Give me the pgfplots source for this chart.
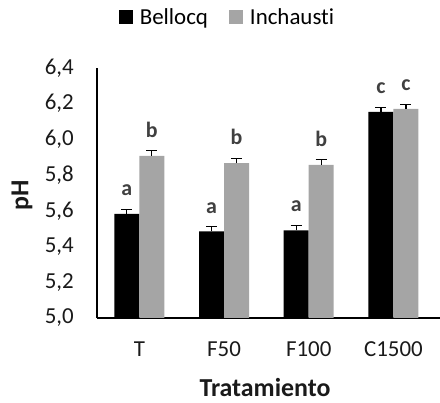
\documentclass[border=0pt]{standalone}
\usepackage{pgfplots}
\pgfplotsset{compat=1.18}
\usepackage{fontspec}
\setmainfont[Ligatures=NoCommon]{Carlito}
\definecolor{gbar}{HTML}{A5A5A5}
\definecolor{lettc}{HTML}{404040}
\definecolor{txtc}{HTML}{1A1A1A}
\begin{document}
\begin{tikzpicture}
\path[use as bounding box] (0,0) rectangle (440bp,403bp);
\begin{axis}[
  at={(97bp,85bp)}, anchor=south west,
  scale only axis, width=343bp, height=250bp,
  ybar=0pt, bar width=25bp,
  xmin=-0.5, xmax=3.55,
  ymin=5.0, ymax=6.4,
  ytick={5.0,5.2,...,6.41},
  xtick=data, xticklabels={T,F50,F100,C1500},
  axis x line*=bottom, axis y line*=left,
  axis line style={black, line width=1.3bp},
  major tick length=0pt,
  tick label style={font=\fontsize{23}{27}\selectfont, text=txtc},
  /pgf/number format/assume math mode=true,
  yticklabel style={/pgf/number format/use comma, /pgf/number format/fixed, /pgf/number format/fixed zerofill, /pgf/number format/precision=1, anchor=east, inner sep=0pt, xshift=-23bp},
  xticklabel style={anchor=center, inner sep=0pt, yshift=-31bp},
  ylabel={\textbf{pH}}, xlabel={\textbf{Tratamiento}},
  label style={font=\fontsize{26}{30}\selectfont, text=txtc},
  ylabel style={at={(-75bp,123bp)}, anchor=center},
  xlabel style={at={(168bp,-70bp)}, anchor=center},
  point meta=explicit symbolic,
  nodes near coords,
  every node near coord/.append style={font=\bfseries\fontsize{22}{26}\selectfont, text=lettc, anchor=south, inner sep=0pt, yshift=18bp},
  error bars/y dir=plus, error bars/y explicit,
  error bars/error mark options={rotate=90, mark size=5.5bp, line width=1.2bp, black},
  error bars/error bar style={line width=1.2bp, black},
  legend style={at={(121bp,301bp)}, anchor=center, draw=none, legend columns=2,
    font=\fontsize{23}{27}\selectfont},
  legend image code/.code={\fill[#1, draw=none] (0bp,-7bp) rectangle (14bp,7bp); \path[draw=none, fill=none] (-19bp,0bp) rectangle (19bp,0.1bp);},
]
\addplot[fill=black, draw=none] coordinates {
  (0,5.583) +- (0,0.025) [a]
  (1,5.485) +- (0,0.026) [a]
  (2,5.491) +- (0,0.026) [a]
  (3,6.154) +- (0,0.024) [c]
};
\addplot[fill=gbar, draw=none] coordinates {
  (0,5.908) +- (0,0.028) [b]
  (1,5.867) +- (0,0.026) [b]
  (2,5.858) +- (0,0.028) [b]
  (3,6.171) +- (0,0.026) [c]
};
\legend{Bellocq, Inchausti}
\end{axis}
\end{tikzpicture}
\end{document}
